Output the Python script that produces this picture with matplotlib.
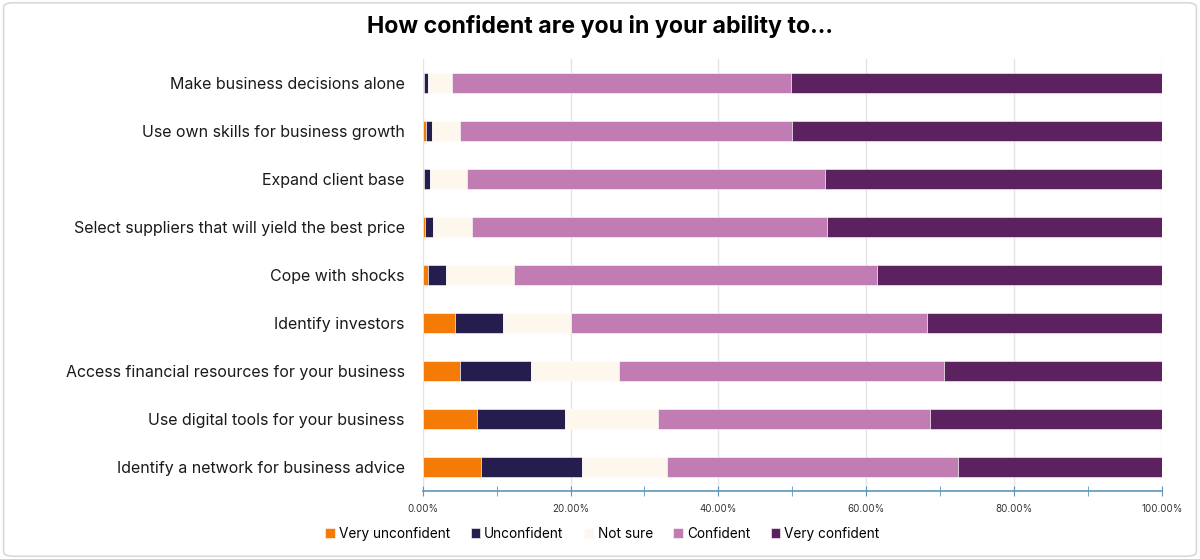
import numpy as np
import matplotlib.pyplot as plt
from matplotlib.patches import FancyBboxPatch
from matplotlib.ticker import MultipleLocator, FuncFormatter

plt.rcParams['font.family'] = ['Inter', 'DejaVu Sans']

categories = [
    'Make business decisions alone',
    'Use own skills for business growth',
    'Expand client base',
    'Select suppliers that will yield the best price',
    'Cope with shocks',
    'Identify investors',
    'Access financial resources for your business',
    'Use digital tools for your business',
    'Identify a network for business advice',
]
levels = ['Very unconfident', 'Unconfident', 'Not sure', 'Confident', 'Very confident']
colors = ['#F47B06', '#261D4F', '#FEF7EE', '#C07CB3', '#5C2260']

very_unconfident = [0.2, 0.4, 0.15, 0.3, 0.7, 4.3, 5.0, 7.35, 7.9]
unconfident = [0.55, 0.8, 0.85, 1.1, 2.5, 6.6, 9.7, 11.9, 13.7]
not_sure = [3.15, 3.8, 5.0, 5.2, 9.2, 9.2, 11.9, 12.55, 11.4]
confident = [45.9, 45.0, 48.5, 48.1, 49.1, 48.2, 43.9, 36.8, 39.4]
very_confident = [50.2, 50.0, 45.5, 45.3, 38.5, 31.7, 29.5, 31.4, 27.6]

series = [very_unconfident, unconfident, not_sure, confident, very_confident]

fig = plt.figure(figsize=(12, 5.59), dpi=100)
ax = fig.add_axes([0.3523, 0.1216, 0.6158, 0.7729])

y = np.arange(len(categories))
left = np.zeros(len(categories))
for name, vals, col in zip(levels, series, colors):
    vals = np.array(vals)
    ax.barh(y, vals, left=left, height=0.4, color=col, label=name,
            edgecolor='white', linewidth=0.4)
    left += vals

ax.set_ylim(len(categories) - 0.5, -0.5)
ax.set_xlim(0, 100)
ax.set_yticks(y)
ax.set_yticklabels(categories, fontsize=11.5, color='#1a1a1a')
ax.tick_params(axis='y', length=0, pad=13)

ax.xaxis.set_major_locator(MultipleLocator(20))
ax.xaxis.set_minor_locator(MultipleLocator(10))
ax.xaxis.set_major_formatter(FuncFormatter(lambda v, p: f'{v:.2f}%'))
ax.tick_params(axis='x', which='both', direction='inout', color='#5E97BD',
               labelsize=7, labelcolor='#333333', pad=6)
ax.tick_params(axis='x', which='major', length=7)
ax.tick_params(axis='x', which='minor', length=7)
ax.grid(True, axis='x', color='#E3E3E3', linewidth=1)
ax.set_axisbelow(True)
for s in ['top', 'right', 'left']:
    ax.spines[s].set_visible(False)
ax.spines['bottom'].set_color('#5E97BD')
ax.spines['bottom'].set_linewidth(1.2)

fig.text(0.5, 0.953, 'How confident are you in your ability to...', ha='center',
         va='center', fontsize=16.7, fontweight='bold', color='black')

fig.legend(loc='center', bbox_to_anchor=(0.502, 0.045), ncol=5, frameon=False,
           fontsize=9.8, handlelength=0.7, handleheight=0.7, handletextpad=0.3,
           columnspacing=1.5)

border = FancyBboxPatch((0.003, 0.005), 0.994, 0.99, boxstyle='round,pad=0,rounding_size=0.008',
                        transform=fig.transFigure, fill=False, edgecolor='#D9D9D9',
                        linewidth=1.2)
fig.patches.append(border)

fig.savefig('out.png', dpi=100)
